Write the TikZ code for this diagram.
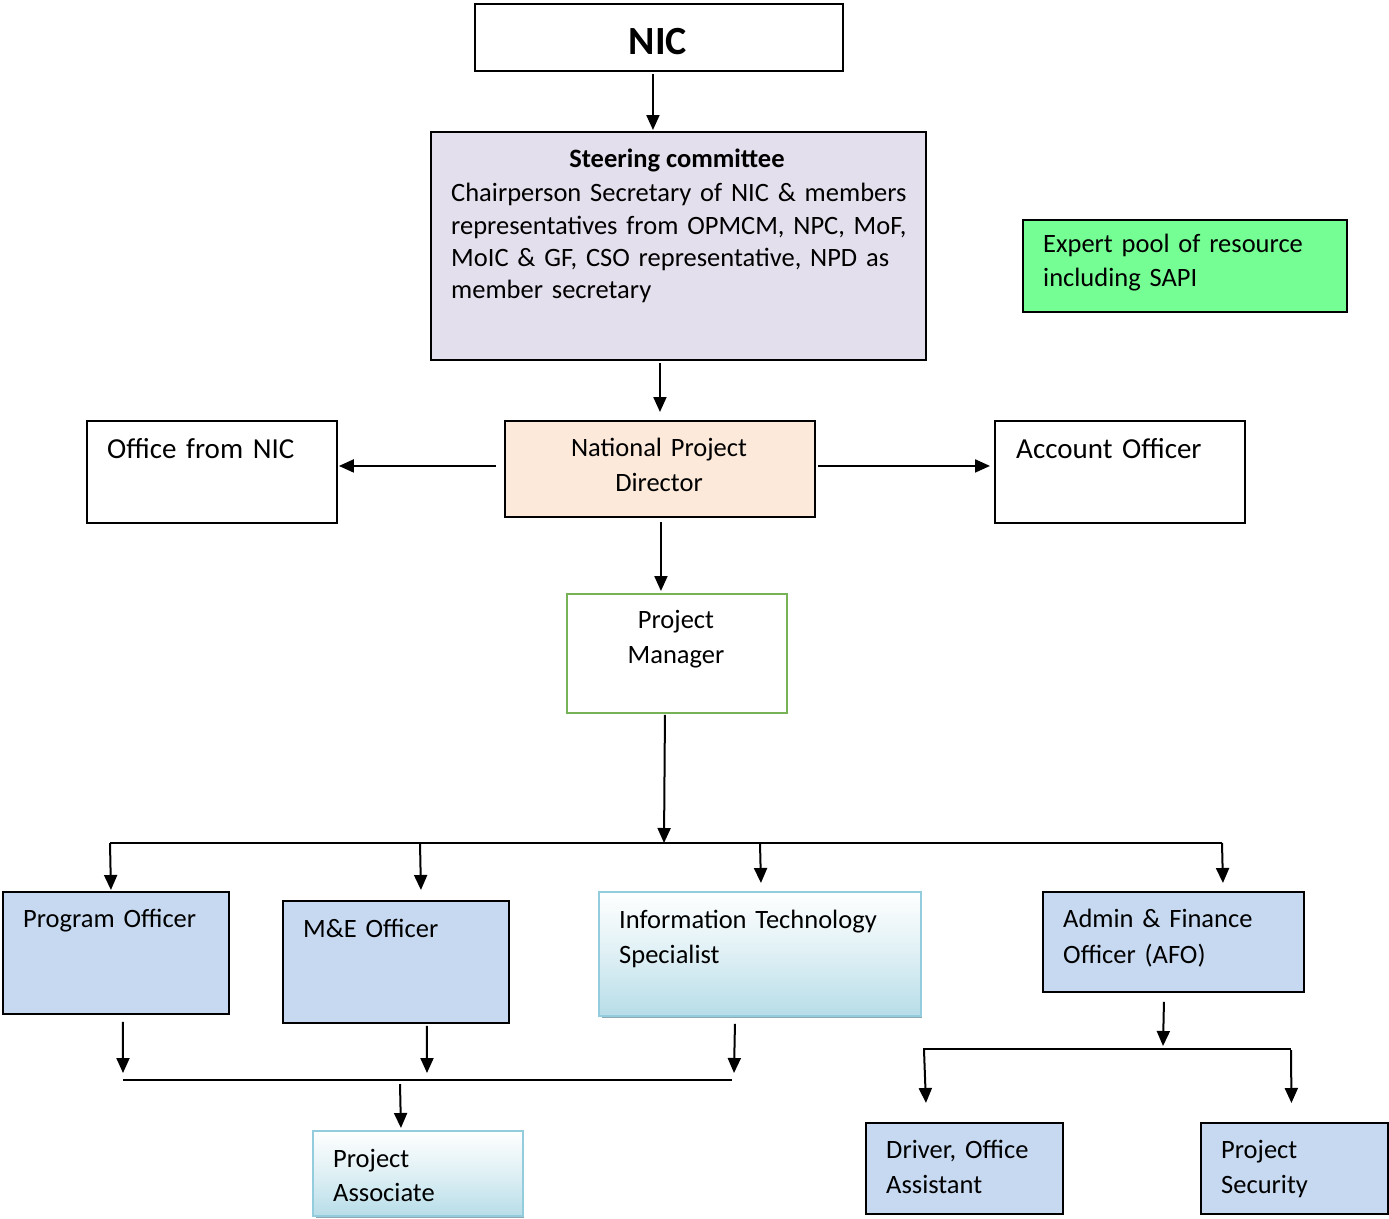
\documentclass[tikz,border=0pt]{standalone}
\usepackage{fontspec}
\setmainfont{Carlito}
\usetikzlibrary{arrows.meta,calc}
\definecolor{lav}{HTML}{E4DFEC}
\definecolor{peach}{HTML}{FCE9DA}
\definecolor{grn}{HTML}{74FE93}
\definecolor{lblue}{HTML}{C6D9F1}
\definecolor{pmgreen}{HTML}{77B356}
\definecolor{itborder}{HTML}{93CDDD}
\definecolor{itbottom}{HTML}{B7DDE8}
\definecolor{shadowc}{HTML}{8FA9B4}
\newcommand{\fsz}[2]{\fontsize{#1}{#2}\selectfont\fontdimen2\font=0.18em\relax}
\tikzset{
  box/.style={draw=black, line width=1.9pt, inner sep=0pt, anchor=north west},
  shbox/.style={draw=itborder, line width=1.9pt, inner sep=0pt, anchor=north west, top color=white, bottom color=itbottom, middle color=itbottom!45},
  txt/.style={inner sep=0pt, anchor=base west, align=left, text width=#1, font=\fsz{26.5pt}{35pt}},
  txt/.default=320pt,
  ctxt/.style={inner sep=0pt, anchor=base, align=center, text width=#1, font=\fsz{26.5pt}{35pt}},
  ctxt/.default=300pt,
  arr/.style={line width=2pt, -{Triangle[width=13pt,length=15pt]}},
  ln/.style={line width=2pt},
}
\begin{document}
\begin{tikzpicture}[x=1pt,y=-1pt]
\useasboundingbox (0,0) rectangle (1389,1218);
% boxes
\node[box, minimum width=368pt, minimum height=67pt] (nic) at (474,3) {};
\node[box, fill=lav, minimum width=495pt, minimum height=228pt] (sc) at (430,131) {};
\node[box, fill=grn, minimum width=324pt, minimum height=92pt] (ep) at (1022,219) {};
\node[box, fill=peach, minimum width=310pt, minimum height=96pt] (npd) at (504,420) {};
\node[box, minimum width=250pt, minimum height=102pt] (ofn) at (86,420) {};
\node[box, minimum width=250pt, minimum height=102pt] (ao) at (994,420) {};
\node[box, draw=pmgreen, minimum width=220pt, minimum height=119pt] (pm) at (566,593) {};
\node[box, fill=lblue, minimum width=226pt, minimum height=122pt] (po) at (2,891) {};
\node[box, fill=lblue, minimum width=226pt, minimum height=122pt] (me) at (282,900) {};
\fill[shadowc] (602,895) rectangle (922,1018);
\node[shbox, minimum width=322pt, minimum height=124pt] (it) at (598,891) {};
\node[box, fill=lblue, minimum width=261pt, minimum height=100pt] (afo) at (1042,891) {};
\fill[shadowc] (316,1134) rectangle (524,1218);
\node[shbox, minimum width=210pt, minimum height=85pt] (pa) at (312,1130) {};
\node[box, fill=lblue, minimum width=197pt, minimum height=91pt] (dr) at (865,1122) {};
\node[box, fill=lblue, minimum width=187pt, minimum height=91pt] (ps) at (1200,1122) {};
% texts
\node[inner sep=0pt, anchor=base, font=\fontsize{40pt}{48pt}\selectfont\bfseries] (nict) at (658,54) {NIC};
\node[inner sep=0pt, anchor=base, font=\fontsize{26.5pt}{32.3pt}\selectfont\bfseries] (sct) at (677,167) {Steering committee};
\node[txt=470pt, font=\fsz{26.5pt}{32.3pt}] (scb) at (451,201.7) {Chairperson Secretary of NIC \& members\\representatives from OPMCM, NPC, MoF,\\MoIC \& GF, CSO representative, NPD as\\member secretary};
\node[txt=300pt, font=\fsz{26.5pt}{34.5pt}] (ept) at (1043,252) {Expert pool of resource\\including SAPI};
\node[ctxt=300pt] (npdt) at (659,456) {National Project\\Director};
\node[txt=230pt, font=\fsz{29pt}{35pt}] (ofnt) at (107,458) {Office from NIC};
\node[txt=230pt, font=\fsz{29pt}{35pt}] (aot) at (1016,458) {Account Officer};
\node[ctxt=210pt] (pmt) at (676,628) {Project\\Manager};
\node[txt=210pt] (pot) at (23,927) {Program Officer};
\node[txt=210pt] (met) at (303,937) {M\&E Officer};
\node[txt=300pt] (itt) at (619,928) {Information Technology\\Specialist};
\node[txt=240pt, font=\fsz{26.5pt}{36pt}] (afot) at (1063,927) {Admin \& Finance\\Officer (AFO)};
\node[txt=190pt, font=\fsz{26.5pt}{34pt}] (pat) at (333,1167) {Project\\Associate};
\node[txt=180pt] (drt) at (886,1158) {Driver, Office\\Assistant};
\node[txt=170pt] (pst) at (1221,1158) {Project\\Security};
% connector coordinates
\coordinate (b1) at (664,843);
\coordinate (b1l) at (110,843);
\coordinate (b1r) at (1222,843);
\coordinate (d2) at (420,843);
\coordinate (d3) at (760,843);
\coordinate (b2l) at (123,1080);
\coordinate (b2r) at (732,1080);
\coordinate (d4) at (400,1080);
\coordinate (b3l) at (923,1049);
\coordinate (b3r) at (1291,1049);
% connectors
\draw[arr] ($(nic.south)+(-6,2)$) -- ($(sc.north)+(-25.5,-1)$);
\draw[arr] ($(sc.south)+(-18.5,2)$) -- ($(npd.north)+(0,-8)$);
\draw[arr] ($(npd.west)+(-8,-3)$) -- ($(ofn.east)+(1,-6)$);
\draw[arr] ($(npd.east)+(2,-3)$) -- ($(ao.west)+(-4,-6)$);
\draw[arr] ($(npd.south)+(1,4)$) -- ($(pm.north)+(-16,-2)$);
\draw[arr] ($(pm.south)+(-12,1)$) -- (b1);
\draw[ln] (b1l) -- (b1r);
\draw[arr] (b1l) -- ($(po.north)+(-5,-1)$);
\draw[arr] (d2) -- ($(me.north)+(25,-10)$);
\draw[arr] (d3) -- ($(it.north)+(1,-8)$);
\draw[arr] (b1r) -- ($(afo.north)+(49.5,-8)$);
\draw[arr] ($(po.south)+(7,7)$) -- ($(b2l)+(0,-7)$);
\draw[arr] ($(me.south)+(31,2)$) -- ($(b2l)+(304,-7)$);
\draw[arr] ($(it.south)+(-25,7)$) -- ($(b2r)+(2,-7)$);
\draw[ln] (b2l) -- (b2r);
\draw[arr] ($(d4)+(0,4)$) -- ($(pa.north)+(-17,-2)$);
\draw[arr] ($(afo.south)+(-9.5,9)$) -- ($(b3l)+(240,-3)$);
\draw[ln] (b3l) -- (b3r);
\draw[arr] ($(b3l)+(1,1)$) -- ($(dr.north)+(-38.5,-19)$);
\draw[arr] ($(b3r)+(0,1)$) -- ($(ps.north)+(-3,-19)$);
\end{tikzpicture}
\end{document}
